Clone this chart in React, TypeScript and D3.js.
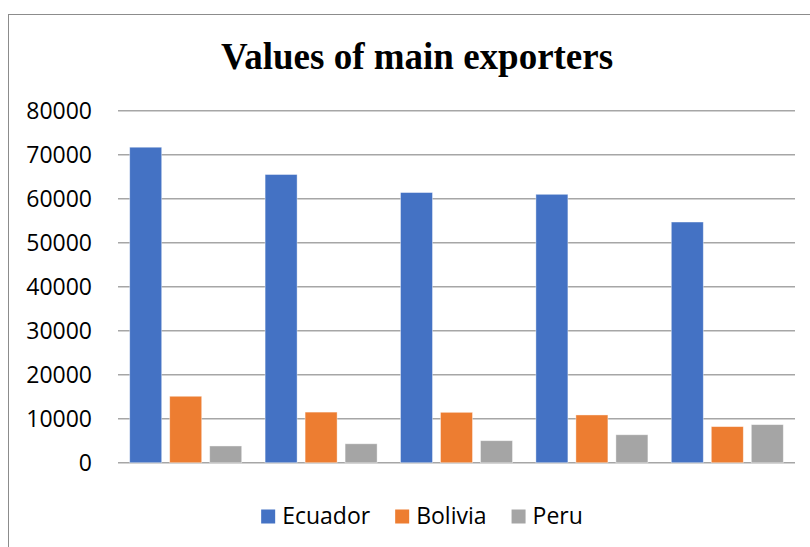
import React, { useEffect, useRef } from "react";
import * as d3 from "d3";

const categories = ["1", "2", "3", "4", "5"];
const seriesNames = ["Ecuador", "Bolivia", "Peru"];
const ecuador = [71700, 65500, 61400, 61000, 54700];
const bolivia = [15100, 11500, 11450, 10850, 8200];
const peru = [3800, 4300, 5000, 6350, 8650];
const colors = ["#4472C4", "#ED7D31", "#A5A5A5"];
const yTicks = [0, 10000, 20000, 30000, 40000, 50000, 60000, 70000, 80000];
const title = "Values of main exporters";

export default function App() {
  const ref = useRef<SVGSVGElement>(null);
  useEffect(() => {
    const svg = d3.select(ref.current);
    svg.selectAll("*").remove();
    const W = 810, H = 547;
    const left = 118, right = 795, top = 110.7, bottom = 462.7;
    const font = "'Open Sans', 'Noto Sans', sans-serif";

    svg.append("rect").attr("x", 0).attr("y", 0).attr("width", W).attr("height", H).attr("fill", "#fff");
    svg.append("rect").attr("x", 8.5).attr("y", 14.5).attr("width", 900).attr("height", 700)
      .attr("fill", "none").attr("stroke", "#8c8c8c").attr("stroke-width", 1);

    svg.append("text").attr("x", 417).attr("y", 68.5).attr("text-anchor", "middle")
      .attr("font-family", "'Liberation Serif', 'Times New Roman', serif").attr("font-weight", "bold")
      .attr("font-size", 37).attr("fill", "#000").text(title);

    const y = d3.scaleLinear().domain([0, 80000]).range([bottom, top]);
    const x0 = d3.scaleBand().domain(categories).range([left, right]).paddingInner(0.1728).paddingOuter(0.0864);
    const x1 = d3.scaleBand().domain(seriesNames).range([0, x0.bandwidth()]).paddingInner(0.2);

    svg.append("g").selectAll("line").data(yTicks).join("line")
      .attr("x1", left).attr("x2", right).attr("y1", d => y(d)).attr("y2", d => y(d))
      .attr("stroke", "#a6a6a6").attr("stroke-width", 1.5);

    svg.append("g").selectAll("text").data(yTicks).join("text")
      .attr("x", 92).attr("y", d => y(d)).attr("dy", "0.35em").attr("text-anchor", "end")
      .attr("font-family", font).attr("font-size", 23).attr("fill", "#000").text(d => String(d));

    const series = [ecuador, bolivia, peru];
    series.forEach((vals, si) => {
      svg.append("g").selectAll("rect").data(vals).join("rect")
        .attr("x", (_, i) => (x0(categories[i]) as number) + (x1(seriesNames[si]) as number))
        .attr("y", d => y(d)).attr("width", x1.bandwidth()).attr("height", d => bottom - y(d))
        .attr("fill", colors[si]).attr("stroke", "#fff").attr("stroke-opacity", 0.5).attr("stroke-width", 0.8);
    });

    // legend
    const lg = svg.append("g");
    const items = lg.selectAll("g").data(seriesNames).join("g");
    items.append("rect").attr("width", 14).attr("height", 14).attr("y", 509.5).attr("fill", (_, i) => colors[i]);
    items.append("text").attr("x", 21).attr("y", 523.5).attr("font-family", font).attr("font-size", 23)
      .attr("fill", "#000").text(d => d);
    let cx = 0;
    const widths: number[] = [];
    items.each(function () {
      const t = d3.select(this).select("text").node() as SVGTextElement;
      widths.push(21 + t.getComputedTextLength());
    });
    const gap = 25;
    const total = d3.sum(widths) + gap * (widths.length - 1);
    cx = 422 - total / 2;
    items.attr("transform", (_, i) => {
      const tx = cx;
      cx += widths[i] + gap;
      return `translate(${tx},0)`;
    });
  }, []);
  return (
    <svg ref={ref} width={810} height={547} style={{ position: "absolute", left: 0, top: 0, display: "block" }} />
  );
}
